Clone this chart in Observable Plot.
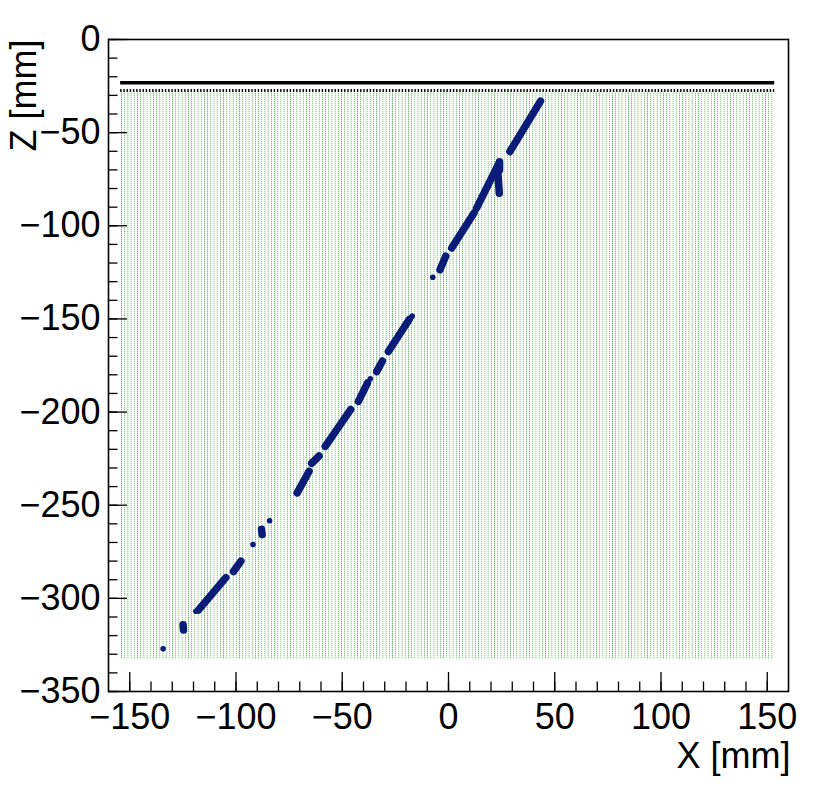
<!DOCTYPE html>
<html>
<head>
<meta charset="utf-8">
<script src="https://cdn.jsdelivr.net/npm/d3@7"></script>
<script src="https://cdn.jsdelivr.net/npm/@observablehq/plot@0.6"></script>
<style>
  html, body { margin: 0; padding: 0; background: #fff; }
  svg { font-family: "Liberation Sans", Arial, Helvetica, sans-serif; }
</style>
</head>
<body>
<div id="chart"></div>
<script>
// ---- data (mm) ----
const xTicksMajor = [-150, -100, -50, 0, 50, 100, 150];
const xTicksMinor = d3.range(-150, 151, 10);
const zTicksMajor = [0, -50, -100, -150, -200, -250, -300, -350];
const zTicksMinor = d3.range(-350, 1, 10);

// sensitive pixel area
const pixelArea = [{x1: -154.2, x2: 153.5, z1: -332.8, z2: -28.2}];
// solid plane and segmented (dotted) plane
const solidPlane = {z: -23.2, x1: -154.3, x2: 153.5};
const dottedPlane = {z: -27.4, x1: -154.3, x2: 153.5};

// track segments [x1, z1, x2, z2]
const trackSegments = [
  [-124.9, -314.2, -124.7, -317.0],
  [-117.6, -306.2, -104.8, -288.9],
  [-101.2, -285.6, -97.7, -280.0],
  [-88.0, -262.9, -87.7, -265.8],
  [-71.2, -243.4, -65.6, -231.8],
  [-64.4, -227.5, -60.9, -223.6],
  [-58.0, -218.4, -46.0, -198.6],
  [-42.4, -194.3, -38.1, -184.3],
  [-33.8, -178.3, -31.1, -172.6],
  [-28.3, -167.5, -18.5, -150.3],
  [-4.0, -123.6, -1.3, -116.3],
  [1.5, -111.9, 12.0, -93.1],
  [13.2, -90.5, 23.8, -66.3],
  [24.0, -65.6, 24.0, -70.0],
  [23.3, -72.3, 23.9, -82.5],
  [28.9, -60.1, 43.3, -33.1]
];
// isolated hits [x, z]
const trackHits = [
  [-134.3, -327.1],
  [-118.9, -306.9],
  [-92.0, -271.1],
  [-84.2, -258.3],
  [-36.8, -182.1],
  [-17.1, -148.5],
  [-7.4, -127.6]
];

const fmt = d => (d < 0 ? "\u2212" + Math.abs(d) : String(d));
const blue = "#0a1c78";

const W = 830, H = 797;
const mL = 108, mR = 42, mT = 39, mB = 106;
const plotW = W - mL - mR, plotH = H - mT - mB;

const segs = trackSegments.map(([x1, z1, x2, z2]) => ({x1, z1, x2, z2}));
const hits = trackHits.map(([x, z]) => ({x, z}));

const chart = Plot.plot({
  width: W,
  height: H,
  marginLeft: mL,
  marginRight: mR,
  marginTop: mT,
  marginBottom: mB,
  x: {domain: [-160, 160]},
  y: {domain: [-350, 0]},
  style: {fontFamily: "Liberation Sans, Arial, Helvetica, sans-serif", background: "white"},
  marks: [
    Plot.rect(pixelArea, {x1: "x1", x2: "x2", y1: "z1", y2: "z2", fill: "url(#pixgrid)"}),
    Plot.ruleY([solidPlane], {y: "z", x1: "x1", x2: "x2", stroke: "black", strokeWidth: 3.6}),
    Plot.ruleY([dottedPlane], {y: "z", x1: "x1", x2: "x2", stroke: "black", strokeWidth: 3, strokeDasharray: "1.4 1.8"}),
    Plot.link(segs, {x1: "x1", y1: "z1", x2: "x2", y2: "z2", stroke: blue, strokeWidth: 7.5, strokeLinecap: "round"}),
    Plot.dot(hits, {x: "x", y: "z", r: 2.8, fill: blue}),
    // inward ticks
    Plot.ruleX(xTicksMinor, {x: d => d, insetTop: plotH - 9.5, stroke: "black", strokeWidth: 1.3}),
    Plot.ruleX(xTicksMajor, {x: d => d, insetTop: plotH - 19, stroke: "black", strokeWidth: 1.3}),
    Plot.ruleY(zTicksMinor, {y: d => d, insetRight: plotW - 9.5, stroke: "black", strokeWidth: 1.3}),
    Plot.ruleY(zTicksMajor, {y: d => d, insetRight: plotW - 19, stroke: "black", strokeWidth: 1.3}),
    Plot.frame({stroke: "black", strokeWidth: 1.6}),
    Plot.axisX(xTicksMajor, {tickSize: 0, tickPadding: 12, fontSize: 36, tickFormat: fmt, fill: "black", label: null}),
    Plot.axisY(zTicksMajor, {tickSize: 0, tickPadding: 8, fontSize: 36, tickFormat: fmt, fill: "black", label: null}),
    Plot.text(["X [mm]"], {frameAnchor: "bottom-right", textAnchor: "end", lineAnchor: "bottom", dy: 76, dx: 2, fontSize: 36, fill: "black"}),
    Plot.text(["Z [mm]"], {frameAnchor: "top-left", textAnchor: "end", lineAnchor: "bottom", rotate: -90, dx: -73, dy: 0, fontSize: 36, fill: "black"})
  ]
});

// pixel-grid fill pattern for the sensitive area
const pxPerMm = plotW / 320;
const ns = "http://www.w3.org/2000/svg";
const defs = document.createElementNS(ns, "defs");
const pat = document.createElementNS(ns, "pattern");
pat.setAttribute("id", "pixgrid");
pat.setAttribute("patternUnits", "userSpaceOnUse");
pat.setAttribute("x", mL + (160 - 154.2) * pxPerMm);
pat.setAttribute("y", mT);
pat.setAttribute("width", (1.5 * pxPerMm).toFixed(3));
pat.setAttribute("height", "2");
function prect(x, y, w, h, fill) {
  const r = document.createElementNS(ns, "rect");
  r.setAttribute("x", x); r.setAttribute("y", y);
  r.setAttribute("width", w); r.setAttribute("height", h);
  r.setAttribute("fill", fill);
  r.setAttribute("shape-rendering", "crispEdges");
  return r;
}
pat.appendChild(prect(0, 0, (1.5 * pxPerMm).toFixed(3), 2, "#ffffff"));
pat.appendChild(prect(0.6, 0, 1.2, 1, "#3dd03d"));
pat.appendChild(prect(0.6, 1, 1.2, 1, "#c4efc4"));
defs.appendChild(pat);
chart.insertBefore(defs, chart.firstChild);

document.getElementById("chart").appendChild(chart);
</script>
</body>
</html>
